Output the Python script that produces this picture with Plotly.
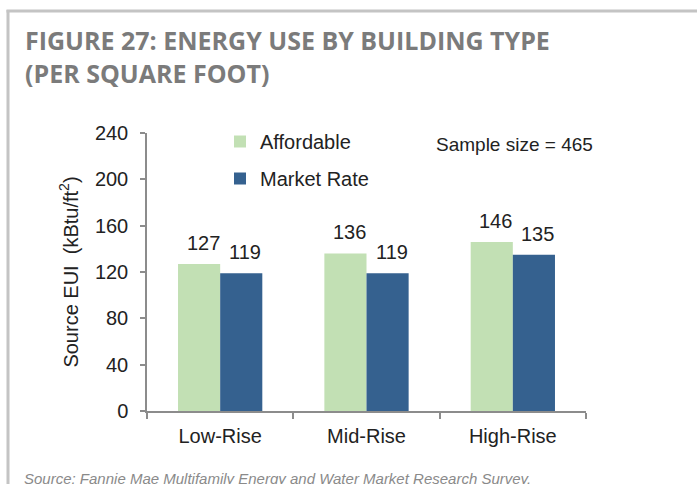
import plotly.graph_objects as go

categories = ["Low-Rise", "Mid-Rise", "High-Rise"]
affordable = [127, 136, 146]
market_rate = [119, 119, 135]
series_names = ["Affordable", "Market Rate"]
colors = ["#c2e0b4", "#35618f"]
y_ticks = [0, 40, 80, 120, 160, 200, 240]

W, H = 697, 484
L, R, T, B = 147, 111, 133, 73
PW, PH = W - L - R, H - T - B

def px(x):
    return (x - L) / PW

def py(y):
    return (H - B - y) / PH

FONT = "Liberation Sans, Arial, sans-serif"
TXT = "#222222"
AX = "#8c8c8c"

fig = go.Figure()
for name, vals, col, grp in zip(series_names, [affordable, market_rate], colors, ["a", "b"]):
    fig.add_trace(go.Bar(x=categories, y=vals, name=name, marker=dict(color=col, line=dict(width=0)),
                         legendgroup=grp))

bargap = 0.424
bw = (1 - bargap) / 2
annotations = []
for i, cat in enumerate(categories):
    for j, vals in enumerate([affordable, market_rate]):
        xoff = (j - 0.5) * bw
        annotations.append(dict(x=i + xoff, y=vals[i], xref="x", yref="y", text=str(vals[i]),
                                showarrow=False, yshift=21, xshift=4, yanchor="middle",
                                font=dict(family=FONT, size=20, color=TXT)))

annotations.append(dict(x=px(434), y=py(144), xref="paper", yref="paper", text="Sample size = 465",
                        showarrow=False, xanchor="left", yanchor="middle",
                        font=dict(family=FONT, size=19, color=TXT)))
annotations.append(dict(x=px(22), y=py(478), xref="paper", yref="paper",
                        text="Source: Fannie Mae Multifamily Energy and Water Market Research Survey.",
                        showarrow=False, xanchor="left", yanchor="middle",
                        font=dict(family=FONT, size=15, color="#8a8a8a", style="italic")))

shapes = [
    dict(type="line", xref="paper", yref="paper", x0=px(8), x1=px(8), y0=py(10), y1=py(H + 5),
         line=dict(color="#c4c4c4", width=3)),
    dict(type="line", xref="paper", yref="paper", x0=px(6.5), x1=px(W + 5), y0=py(11), y1=py(11),
         line=dict(color="#c4c4c4", width=3)),
]

fig.update_layout(
    width=W, height=H,
    margin=dict(l=L, r=R, t=T, b=B),
    paper_bgcolor="white", plot_bgcolor="white",
    barmode="group", bargap=bargap, bargroupgap=0,
    font=dict(family=FONT, size=20, color=TXT),
    title=dict(text="FIGURE 27: ENERGY USE BY BUILDING TYPE<br>(PER SQUARE FOOT)",
               xref="container", yref="container", x=25 / W, y=1 - 50 / H,
               xanchor="left", yanchor="top",
               font=dict(family="Open Sans, sans-serif",
                         size=25, color="#7b7b7b", weight="bold")),
    showlegend=True,
    legend=dict(x=px(220), y=py(122), xanchor="left", yanchor="top", traceorder="grouped",
                tracegroupgap=8, itemwidth=30, bgcolor="rgba(0,0,0,0)",
                font=dict(family=FONT, size=20, color=TXT)),
    xaxis=dict(range=[-0.5, 2.5], showline=True, linecolor=AX, linewidth=1.5, ticks="outside",
               tickson="boundaries", ticklen=6, tickcolor=AX, tickwidth=1.5, showgrid=False,
               ticklabelstandoff=6,
               tickfont=dict(family=FONT, size=20, color=TXT), fixedrange=True),
    yaxis=dict(range=[0, 240], tickvals=y_ticks, showline=True, linecolor=AX, linewidth=1.5,
               ticks="outside", ticklen=5, tickcolor=AX, tickwidth=1.5, showgrid=False, zeroline=False,
               ticklabelstandoff=8,
               tickfont=dict(family=FONT, size=20, color=TXT),
               title=dict(text="Source EUI  (kBtu/ft<sup>2</sup>)", standoff=11,
                          font=dict(family=FONT, size=20, color=TXT))),
    annotations=annotations,
    shapes=shapes,
)

fig.write_html("out.html", config={"displayModeBar": False},
               post_script="document.body.style.margin='0';document.body.style.padding='0';")
